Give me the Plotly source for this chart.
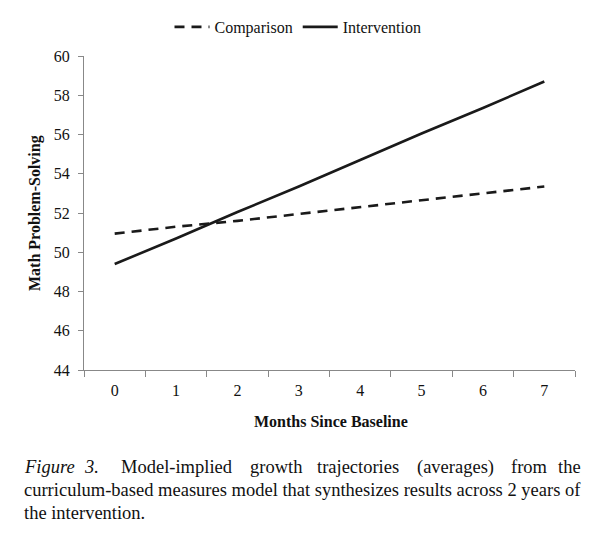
import plotly.graph_objects as go

months = ["0", "1", "2", "3", "4", "5", "6", "7"]
comparison = [50.95, 51.3, 51.6, 51.95, 52.3, 52.65, 53.0, 53.35]
intervention = [49.4, 50.7, 52.05, 53.35, 54.7, 56.05, 57.35, 58.7]

y_ticks = [44, 46, 48, 50, 52, 54, 56, 58, 60]

caption_line1 = ["Model-implied", "growth", "trajectories", "(averages)", "from", "the"]
caption_line2 = "curriculum-based measures model that synthesizes results across 2 years of"
caption_line3 = "the intervention."

W, H = 605, 534
L, R, T, B = 84, 30, 56, 164
serif = "Liberation Serif, Times New Roman, serif"


def px_x(x):
    return (x - L) / (W - L - R)


def px_y(y):
    return (H - B - y) / (H - T - B)


fig = go.Figure()
fig.add_trace(go.Scatter(x=months, y=comparison, mode="lines", name="Comparison",
                         line=dict(color="#1a1a1a", width=2.6, dash="10px,7px")))
fig.add_trace(go.Scatter(x=months, y=intervention, mode="lines", name="Intervention",
                         line=dict(color="#1a1a1a", width=2.6)))

cap_font = dict(size=18.5, family=serif, color="#111")
ann = []
ann.append(dict(text="<b>Math Problem-Solving</b>", x=px_x(35), y=0.5, textangle=-90,
                xanchor="center", font=dict(size=16, family=serif, color="#111")))
ann.append(dict(text="<b>Months Since Baseline</b>", x=px_x(331), y=px_y(421),
                xanchor="center", font=dict(size=16, family=serif, color="#111")))

# caption, first line spread out like the justified original
ann.append(dict(text="<i>Figure</i>", x=px_x(22), y=px_y(467), font=cap_font))
ann.append(dict(text="<i>3.</i>", x=px_x(82), y=px_y(467), font=cap_font))
word_x = [119, 248, 315, 415, 509, 556]
for w, xx in zip(caption_line1, word_x):
    ann.append(dict(text=w, x=px_x(xx), y=px_y(467), font=cap_font))
ann.append(dict(text=caption_line2, x=px_x(22), y=px_y(490), font=cap_font))
ann.append(dict(text=caption_line3, x=px_x(22), y=px_y(513), font=cap_font))
for a in ann:
    a.update(xref="paper", yref="paper", showarrow=False, yanchor="middle")
    a.setdefault("xanchor", "left")

fig.update_layout(
    width=W, height=H,
    margin=dict(l=L, r=R, t=T, b=B, autoexpand=False),
    paper_bgcolor="white", plot_bgcolor="white",
    font=dict(family=serif, size=16, color="#111"),
    showlegend=True,
    legend=dict(orientation="h", x=px_x(298), xanchor="center",
                y=px_y(27), yanchor="middle",
                font=dict(size=16, family=serif), itemwidth=35,
                bgcolor="rgba(0,0,0,0)"),
    annotations=ann,
)
fig.update_xaxes(type="category", range=[-0.5, 7.5], tickson="boundaries",
                 showline=True, linecolor="#888", linewidth=1,
                 ticks="outside", ticklen=6, tickcolor="#888",
                 ticklabelstandoff=6,
                 tickfont=dict(size=16, family=serif, color="#111"),
                 showgrid=False, zeroline=False, fixedrange=True)
fig.update_yaxes(range=[44, 60], tickvals=y_ticks,
                 showline=True, linecolor="#888", linewidth=1,
                 ticks="outside", ticklen=5, tickcolor="#888",
                 ticklabelstandoff=5,
                 tickfont=dict(size=16, family=serif, color="#111"),
                 showgrid=False, zeroline=False)

fig.write_html("out.html", config={"displayModeBar": False},
               post_script="document.body.style.margin='0';")
